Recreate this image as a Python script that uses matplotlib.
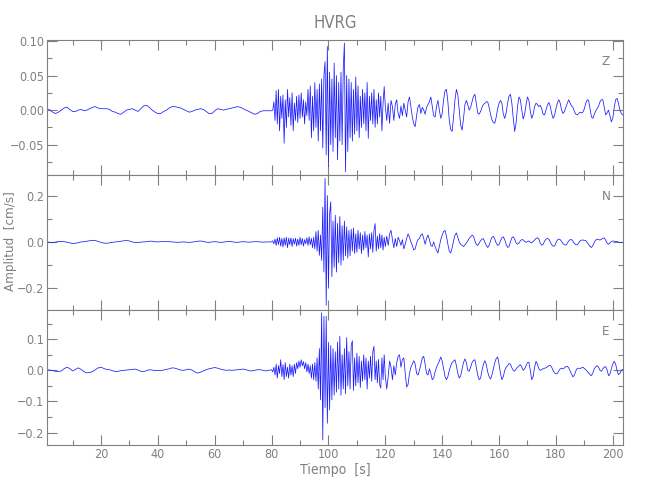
import matplotlib
matplotlib.use("Agg")
import matplotlib.pyplot as plt
import numpy as np
from matplotlib import font_manager
from matplotlib.ticker import MultipleLocator, FuncFormatter

# narrow font, close to the thin IDL lettering of the original
installed = {(f.name, f.stretch) for f in font_manager.fontManager.ttflist}
if any(n == 'Liberation Sans Narrow' for n, s in installed):
    plt.rcParams['font.family'] = ['Liberation Sans Narrow', 'DejaVu Sans']
else:
    plt.rcParams['font.family'] = ['DejaVu Sans']
    plt.rcParams['font.stretch'] = 'condensed'

GREY = '#808080'
TRACE = '#1a1aff'

station = "HVRG"
components = ["Z", "N", "E"]

# --- seismogram samples ---------------------------------------------------
# quiet pre-event part: t = 1 .. 80 s, every 1 s
t_quiet0, dt_quiet = 1.0, 1.0
# strong motion: t = 80 .. 119.6 s, every 0.4 s
t_strong0, dt_strong = 80.0, 0.4
# coda: t = 120 .. 203.5 s, every 0.5 s
t_coda0, dt_coda = 120.0, 0.5

z_quiet = [0.002, 0.000, -0.003, -0.005, -0.003, 0.000, 0.003, 0.004, 0.001, -0.002,
           -0.002, 0.000, 0.001, -0.001, 0.000, 0.002, 0.004, 0.005, 0.003, 0.002,
           0.002, 0.002, 0.001, -0.002, -0.003, -0.005, -0.006, -0.003, 0.000, 0.001,
           0.002, 0.000, -0.002, 0.002, 0.006, 0.007, 0.004, 0.000, -0.003, -0.005,
           -0.005, -0.002, 0.000, 0.003, 0.005, 0.005, 0.004, 0.003, 0.001, -0.001,
           -0.003, -0.002, 0.000, 0.001, 0.002, 0.001, -0.002, -0.005, -0.005, -0.001,
           0.002, 0.001, 0.000, 0.001, 0.002, 0.003, 0.004, 0.005, 0.004, 0.002,
           0.000, -0.002, -0.004, -0.006, -0.005, -0.002, -0.001, -0.001, -0.001, -0.001]
z_strong = [-0.001, 0.000, 0.012, -0.015, 0.028, -0.020, 0.030, -0.030, 0.020, -0.012,
            0.022, -0.048, 0.015, -0.025, 0.030, -0.010, 0.018, -0.022, 0.025, -0.030,
            0.010, -0.015, 0.020, -0.018, 0.022, -0.012, 0.025, -0.010, 0.015, -0.020,
            0.012, -0.008, 0.030, -0.015, 0.035, -0.040, 0.020, -0.030, 0.040, -0.025,
            0.030, -0.045, 0.038, -0.030, 0.045, -0.055, 0.050, 0.070, -0.065, 0.092,
            -0.082, 0.055, -0.050, 0.045, -0.060, 0.068, -0.040, 0.050, -0.072, 0.040,
            -0.045, 0.055, -0.050, 0.060, 0.097, -0.089, 0.050, -0.060, 0.045, -0.040,
            0.040, -0.045, 0.030, -0.035, 0.048, -0.030, 0.035, -0.040, 0.020, -0.025,
            0.030, -0.020, 0.025, -0.030, 0.040, -0.041, 0.020, -0.015, 0.025, -0.020,
            0.030, -0.025, 0.015, -0.020, 0.025, -0.010, 0.020, -0.030, 0.010, 0.034]
z_coda = [0.005, -0.015, 0.010, -0.019, 0.014, 0.005, -0.015, 0.008, 0.015, -0.005,
          -0.012, 0.006, -0.008, 0.010, 0.000, -0.010, 0.012, 0.019, 0.005, -0.010,
          -0.020, -0.024, -0.008, 0.005, 0.008, -0.005, 0.004, 0.000, -0.006, 0.004,
          0.008, 0.012, 0.019, 0.006, -0.008, -0.010, 0.005, 0.014, 0.000, -0.012,
          -0.005, 0.015, 0.028, 0.030, 0.012, -0.015, -0.028, -0.031, -0.010, 0.015,
          0.030, 0.022, 0.000, -0.022, -0.029, -0.012, 0.008, 0.014, 0.008, 0.000,
          0.004, 0.012, 0.020, 0.023, 0.010, -0.004, -0.006, -0.002, 0.004, 0.008,
          0.010, 0.012, 0.012, 0.004, -0.006, -0.014, -0.018, -0.019, -0.010, 0.002,
          0.010, 0.014, 0.010, -0.006, -0.012, -0.004, 0.010, 0.020, 0.023, 0.010,
          -0.012, -0.031, -0.018, 0.005, 0.019, 0.015, 0.000, -0.013, -0.006, 0.008,
          0.019, 0.014, -0.002, -0.012, -0.006, 0.005, 0.010, 0.008, 0.005, 0.007,
          0.002, -0.006, -0.007, 0.000, 0.007, 0.011, 0.006, -0.005, -0.012, -0.008,
          0.002, 0.010, 0.015, 0.010, 0.000, -0.005, -0.002, 0.004, 0.010, 0.015,
          0.010, 0.006, 0.004, -0.002, -0.006, -0.007, -0.005, -0.003, -0.004, -0.003,
          0.002, 0.010, 0.015, 0.014, 0.002, -0.010, -0.012, -0.006, -0.001, 0.002,
          0.006, 0.012, 0.015, 0.015, 0.004, -0.007, -0.004, 0.000, -0.008, -0.017,
          -0.012, 0.004, 0.015, 0.017, 0.010, 0.000, -0.005, -0.007]

n_quiet = [0.000, -0.002, -0.003, -0.001, 0.002, 0.002, 0.001, -0.001, -0.004, -0.007,
           -0.006, -0.003, 0.000, 0.001, 0.003, 0.005, 0.007, 0.006, 0.002, -0.002,
           -0.005, -0.006, -0.004, -0.002, 0.000, 0.001, 0.003, 0.005, 0.006, 0.004,
           0.000, -0.003, -0.003, -0.001, 0.000, 0.001, 0.003, 0.003, 0.001, 0.000,
           0.001, 0.002, 0.002, 0.001, 0.000, -0.001, -0.002, -0.001, 0.000, -0.001,
           -0.002, -0.001, 0.001, 0.003, 0.004, 0.002, -0.001, -0.002, 0.000, 0.001,
           0.000, -0.002, -0.001, 0.001, 0.002, 0.001, -0.001, -0.002, 0.000, 0.001,
           0.000, -0.001, 0.000, 0.001, 0.001, 0.000, -0.001, 0.000, 0.000, 0.000]
n_strong = [0.000, 0.005, -0.008, 0.012, -0.015, 0.018, -0.012, 0.020, -0.018, 0.015,
            -0.022, 0.018, -0.015, 0.020, -0.025, 0.016, -0.012, 0.018, -0.020, 0.014,
            -0.010, 0.016, -0.018, 0.012, -0.015, 0.020, -0.012, 0.015, -0.018, 0.010,
            -0.008, 0.018, -0.015, 0.022, -0.012, 0.015, -0.025, 0.020, -0.030, 0.045,
            -0.040, 0.050, -0.058, 0.030, -0.080, 0.150, -0.130, 0.274, -0.274, 0.200,
            -0.200, 0.120, 0.173, -0.150, 0.090, -0.110, 0.115, -0.130, 0.080, -0.090,
            0.110, -0.100, 0.070, -0.080, 0.090, -0.060, 0.065, -0.070, 0.050, -0.060,
            0.055, -0.040, 0.060, -0.050, 0.035, -0.045, 0.050, -0.030, 0.040, -0.050,
            0.030, -0.035, 0.045, -0.025, 0.030, -0.065, 0.035, -0.030, 0.040, -0.045,
            0.050, 0.079, -0.040, 0.025, -0.030, 0.035, -0.025, 0.030, -0.035, 0.020]
n_coda = [-0.020, 0.025, -0.015, 0.035, 0.050, 0.010, -0.025, 0.015, -0.020, 0.020,
          0.005, -0.015, 0.010, -0.030, -0.010, 0.015, 0.035, 0.020, 0.000, -0.015,
          -0.035, -0.030, -0.005, 0.010, 0.015, 0.030, 0.035, 0.015, -0.010, 0.015,
          0.030, 0.010, -0.015, -0.020, 0.000, -0.020, -0.035, -0.048, -0.020, 0.010,
          0.030, 0.045, 0.050, 0.025, -0.010, -0.040, -0.048, -0.025, 0.005, 0.030,
          0.039, 0.020, 0.000, -0.010, -0.015, -0.020, -0.012, -0.005, 0.005, 0.015,
          0.022, 0.029, 0.025, 0.005, -0.012, -0.015, -0.005, 0.005, 0.012, 0.014,
          0.000, -0.015, -0.024, -0.015, 0.005, 0.020, 0.024, 0.012, -0.005, -0.015,
          -0.012, 0.005, 0.018, 0.022, 0.010, -0.010, -0.024, -0.020, 0.000, 0.018,
          0.022, 0.012, -0.005, -0.010, -0.005, 0.005, 0.010, 0.009, 0.002, -0.002,
          0.002, 0.004, -0.002, -0.004, 0.002, 0.008, 0.015, 0.018, 0.012, -0.005,
          -0.014, -0.010, 0.003, 0.012, 0.015, 0.012, 0.000, -0.012, -0.018, -0.018,
          -0.005, 0.008, 0.012, 0.010, 0.002, -0.008, -0.012, -0.014, -0.006, 0.004,
          0.010, 0.010, 0.003, -0.006, -0.012, -0.012, -0.004, 0.005, 0.008, 0.008,
          0.007, 0.006, -0.002, -0.012, -0.020, -0.024, -0.015, -0.002, 0.008, 0.012,
          0.010, 0.008, 0.012, 0.015, 0.017, 0.008, -0.005, -0.010, -0.004, 0.002,
          0.004, 0.003, 0.002, 0.002, -0.001, -0.003, -0.003, -0.002]

e_quiet = [0.002, 0.001, -0.001, -0.003, -0.004, -0.002, 0.005, 0.010, 0.006, -0.002,
           0.003, 0.008, 0.003, -0.004, -0.008, -0.007, -0.004, 0.002, 0.008, 0.010,
           0.006, 0.003, 0.002, -0.001, -0.004, -0.003, -0.001, 0.000, 0.001, 0.002,
           0.003, 0.004, 0.001, -0.003, -0.004, -0.001, 0.002, 0.001, -0.001, 0.000,
           -0.001, 0.001, 0.003, 0.005, 0.008, 0.007, 0.004, 0.001, 0.000, 0.002,
           0.004, 0.001, -0.005, -0.009, -0.006, -0.002, 0.002, 0.005, 0.007, 0.009,
           0.007, 0.004, 0.002, 0.000, 0.001, 0.000, 0.001, 0.002, 0.003, 0.004,
           0.002, -0.001, -0.002, 0.000, 0.002, 0.002, 0.000, -0.002, 0.000, 0.002]
e_strong = [0.002, -0.005, 0.010, -0.015, 0.020, -0.025, 0.015, -0.010, 0.034, -0.020,
            0.018, -0.030, 0.025, -0.020, 0.010, -0.025, 0.020, -0.015, 0.015, -0.020,
            0.020, -0.010, 0.025, 0.005, 0.030, 0.010, 0.034, 0.015, 0.028, 0.005,
            0.025, -0.005, 0.020, -0.010, 0.015, -0.025, 0.020, -0.030, 0.025, -0.035,
            0.040, -0.060, 0.070, -0.095, 0.185, -0.224, 0.174, -0.120, 0.174, -0.170,
            0.090, -0.127, 0.080, -0.095, 0.070, -0.080, 0.060, -0.070, 0.090, -0.060,
            0.110, -0.080, 0.050, -0.060, 0.070, -0.075, 0.105, -0.050, 0.060, -0.060,
            0.080, 0.095, -0.065, 0.040, -0.050, 0.055, -0.040, 0.045, -0.055, 0.030,
            -0.035, 0.050, -0.030, 0.040, -0.060, 0.030, -0.025, 0.045, -0.035, 0.060,
            0.077, -0.030, 0.030, -0.040, 0.035, -0.045, -0.057, 0.040, -0.030, 0.050]
e_coda = [-0.020, -0.060, -0.020, 0.030, 0.010, -0.030, 0.015, -0.015, 0.025, 0.045,
          0.050, 0.010, 0.035, 0.040, -0.010, -0.054, -0.045, -0.010, 0.010, 0.020,
          0.031, 0.020, -0.010, -0.015, 0.000, 0.020, 0.040, 0.045, 0.020, -0.010,
          -0.015, 0.005, -0.010, -0.030, -0.025, -0.005, 0.010, 0.020, 0.030, 0.043,
          0.030, 0.005, -0.020, -0.030, -0.020, 0.000, 0.015, 0.025, 0.030, 0.034,
          0.015, -0.010, -0.025, -0.018, 0.005, 0.025, 0.037, 0.025, 0.000, -0.003,
          0.010, 0.025, 0.032, 0.034, 0.010, -0.015, -0.030, -0.025, 0.000, 0.020,
          0.031, 0.020, -0.005, -0.020, -0.028, -0.015, 0.005, 0.025, 0.038, 0.043,
          0.020, -0.010, -0.030, -0.020, 0.000, 0.010, 0.015, 0.022, 0.020, 0.008,
          0.000, -0.003, 0.005, 0.010, 0.015, 0.018, 0.010, 0.000, 0.005, 0.015,
          0.025, 0.026, 0.000, -0.030, -0.020, 0.010, 0.029, 0.020, 0.005, 0.000,
          0.003, 0.005, 0.007, 0.008, 0.012, 0.015, 0.016, 0.010, 0.000, -0.008,
          -0.011, -0.010, -0.002, 0.005, 0.006, 0.005, 0.008, 0.012, 0.013, 0.008,
          -0.002, -0.012, -0.021, -0.015, -0.002, 0.006, 0.007, 0.006, 0.008, 0.010,
          0.006, 0.002, -0.003, -0.008, -0.014, -0.017, -0.008, 0.005, 0.012, 0.015,
          0.010, 0.000, -0.003, 0.005, 0.010, 0.012, 0.002, -0.017, -0.012, 0.005,
          0.020, 0.029, 0.020, 0.000, -0.014, -0.010, 0.000, 0.003]

traces = {
    "Z": (z_quiet, z_strong, z_coda),
    "N": (n_quiet, n_strong, n_coda),
    "E": (e_quiet, e_strong, e_coda),
}

y_limits = {"Z": (-0.094, 0.1015), "N": (-0.294, 0.289), "E": (-0.24, 0.194)}
y_major = {"Z": 0.05, "N": 0.2, "E": 0.1}
y_minor = {"Z": 0.025, "N": 0.1, "E": 0.05}
y_fmt = {"Z": "%.2f", "N": "%.1f", "E": "%.1f"}


def build_series(parts):
    quiet, strong, coda = parts
    t = np.concatenate([
        t_quiet0 + dt_quiet * np.arange(len(quiet)),
        t_strong0 + dt_strong * np.arange(len(strong)),
        t_coda0 + dt_coda * np.arange(len(coda)),
    ])
    v = np.concatenate([quiet, strong, coda])
    return t, v


fig = plt.figure(figsize=(6.5, 5.0), dpi=100)
left, width = 47 / 650, (623.3 - 47) / 650
bottoms = [1 - 175 / 500, 1 - 310 / 500, 1 - 445 / 500]
height = 135 / 500

axes = []
for comp, b in zip(components, bottoms):
    ax = fig.add_axes([left, b, width, height])
    t, v = build_series(traces[comp])
    ax.plot(t, v, color=TRACE, lw=0.55)
    ax.set_xlim(1, 203.7)
    ax.set_ylim(*y_limits[comp])

    ax.xaxis.set_major_locator(MultipleLocator(20))
    ax.xaxis.set_minor_locator(MultipleLocator(10))
    ax.yaxis.set_major_locator(MultipleLocator(y_major[comp]))
    ax.yaxis.set_minor_locator(MultipleLocator(y_minor[comp]))
    fmt = y_fmt[comp]
    ax.yaxis.set_major_formatter(FuncFormatter(
        lambda val, pos, f=fmt: (f % val).replace('-', '\u2212') if abs(val) > 1e-9 else f % 0))

    ax.tick_params(which='both', direction='in', top=True, right=True,
                   colors=GREY, labelcolor=GREY, labelsize=9, width=0.8, pad=2)
    ax.tick_params(which='major', length=7)
    ax.tick_params(which='minor', length=3.5)
    for sp in ax.spines.values():
        sp.set_color(GREY)
        sp.set_linewidth(0.8)

    ax.text(0.97, 0.84, comp, transform=ax.transAxes, ha='center', va='center',
            color=GREY, fontsize=9.5)
    axes.append(ax)

for ax in axes[:-1]:
    ax.tick_params(labelbottom=False)

axes[-1].tick_params(axis='x', pad=2.5)
axes[0].set_title(station, color=GREY, fontsize=12, pad=9)
axes[-1].set_xlabel("Tiempo  [s]", color=GREY, fontsize=10, labelpad=1)
fig.text(0.016, 0.518, "Amplitud  [cm/s]", rotation=90, ha='center', va='center',
         color=GREY, fontsize=9.5)

fig.savefig("out.png", dpi=100)
